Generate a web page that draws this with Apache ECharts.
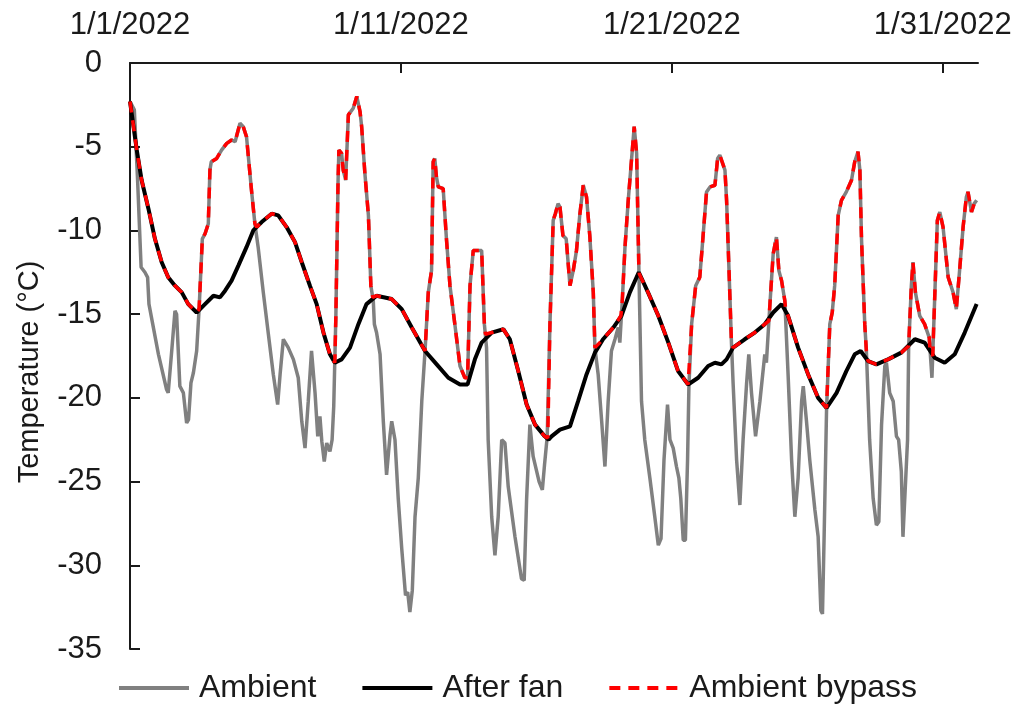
<!DOCTYPE html>
<html lang="en">
  <head>
    <meta charset="UTF-8" />
    <title>Temperature - January 2022</title>
    <script src="https://cdn.jsdelivr.net/npm/echarts@6.0.0/dist/echarts.min.js"></script>
    <style>
      html, body { margin: 0; padding: 0; background: #fff; }
    </style>
  </head>
  <body>
    <div id="chart" style="width: 1030px; height: 706px"></div>
    <script>
      // x = days since 1/1/2022, y = temperature in °C
      const seriesNames = ["Ambient", "After fan", "Ambient bypass"];
      const dayTicks = [0, 10, 20, 30];

      const ambient = [
        [0.0, -2.3], [0.06, -2.2], [0.16, -2.8], [0.28, -7.0], [0.41, -12.2], [0.55, -12.5],
        [0.65, -12.8], [0.7, -14.4], [1.05, -17.4], [1.35, -19.5], [1.41, -19.7], [1.55, -17.0],
        [1.66, -14.8], [1.72, -15.0], [1.84, -19.3], [1.97, -19.7], [2.09, -21.5], [2.16, -21.3],
        [2.25, -19.1], [2.34, -18.5], [2.46, -17.2], [2.55, -14.7], [2.67, -10.5], [2.77, -10.2],
        [2.89, -9.6], [2.95, -6.4], [3.0, -5.9], [3.2, -5.7], [3.38, -5.2], [3.57, -4.8],
        [3.75, -4.6], [3.88, -4.7], [4.06, -3.6], [4.18, -3.8], [4.3, -4.4], [4.49, -7.7],
        [4.61, -9.6], [4.73, -11.0], [4.92, -13.7], [5.1, -16.1], [5.29, -18.6], [5.45, -20.4],
        [5.54, -18.6], [5.66, -16.5], [5.84, -17.0], [6.03, -17.7], [6.21, -18.8], [6.34, -21.4],
        [6.46, -23.0], [6.58, -20.2], [6.7, -17.2], [6.83, -19.7], [6.93, -22.3], [7.01, -21.1],
        [7.08, -22.6], [7.17, -23.8], [7.26, -22.7], [7.38, -23.2], [7.46, -22.5], [7.52, -20.5],
        [7.6, -15.0], [7.68, -7.0], [7.71, -5.2], [7.81, -5.4], [7.87, -6.4], [7.96, -7.0],
        [8.06, -3.1], [8.24, -2.7], [8.37, -2.0], [8.49, -2.9], [8.55, -3.8], [8.67, -6.6],
        [8.8, -9.1], [8.89, -13.3], [8.98, -14.2], [9.02, -15.6], [9.1, -16.1], [9.23, -17.4],
        [9.35, -21.4], [9.47, -24.6], [9.6, -22.2], [9.66, -21.4], [9.78, -22.5], [9.9, -26.0],
        [10.03, -29.0], [10.17, -31.8], [10.25, -31.6], [10.33, -32.8], [10.42, -31.5], [10.52, -27.1],
        [10.64, -24.8], [10.77, -20.2], [10.89, -17.2], [11.01, -13.7], [11.13, -12.4], [11.19, -5.9],
        [11.25, -5.7], [11.31, -6.8], [11.38, -7.4], [11.56, -7.5], [11.68, -10.5], [11.81, -13.3],
        [11.99, -15.6], [12.18, -18.1], [12.36, -18.8], [12.46, -18.8], [12.55, -13.3], [12.67, -11.2],
        [12.98, -11.2], [13.08, -15.6], [13.16, -17.0], [13.22, -22.5], [13.35, -27.1], [13.47, -29.4],
        [13.59, -27.1], [13.72, -22.5], [13.84, -22.7], [13.96, -25.3], [14.21, -28.3], [14.45, -30.8],
        [14.55, -30.9], [14.64, -26.0], [14.76, -21.6], [14.88, -23.5], [15.1, -25.0], [15.22, -25.5],
        [15.3, -24.0], [15.4, -22.3], [15.5, -15.6], [15.62, -9.4], [15.7, -9.0], [15.8, -8.4],
        [15.87, -8.6], [15.98, -10.3], [16.1, -10.5], [16.24, -13.3], [16.36, -12.4], [16.48, -11.2],
        [16.6, -9.1], [16.73, -7.3], [16.85, -8.0], [16.97, -10.3], [17.1, -13.7], [17.16, -17.0],
        [17.28, -18.6], [17.41, -21.4], [17.53, -24.1], [17.65, -20.2], [17.77, -17.2], [17.9, -16.5],
        [18.02, -15.8], [18.08, -16.7], [18.17, -14.2], [18.27, -11.0], [18.39, -8.2], [18.54, -5.2],
        [18.61, -3.8], [18.7, -5.4], [18.78, -12.1], [18.88, -20.2], [19.0, -22.5], [19.19, -24.8],
        [19.37, -27.1], [19.5, -28.8], [19.6, -28.4], [19.71, -23.7], [19.84, -20.4], [19.93, -22.5],
        [20.05, -23.0], [20.17, -24.1], [20.26, -24.8], [20.33, -26.0], [20.42, -28.5], [20.5, -28.5],
        [20.58, -23.7], [20.63, -19.3], [20.73, -15.6], [20.88, -13.3], [21.03, -12.8], [21.12, -11.0],
        [21.28, -7.7], [21.41, -7.4], [21.59, -7.3], [21.69, -5.7], [21.77, -5.5], [21.96, -6.4],
        [22.02, -8.2], [22.11, -12.4], [22.2, -16.7], [22.26, -19.1], [22.39, -23.7], [22.51, -26.4],
        [22.63, -22.5], [22.76, -19.1], [22.84, -17.4], [22.94, -19.7], [23.09, -22.3], [23.25, -20.2],
        [23.43, -17.4], [23.49, -17.9], [23.62, -14.4], [23.74, -11.4], [23.86, -10.4], [23.95, -12.4],
        [24.05, -13.0], [24.17, -14.2], [24.29, -18.6], [24.42, -23.7], [24.54, -27.1], [24.66, -24.8],
        [24.79, -20.2], [24.85, -19.3], [24.97, -21.4], [25.09, -23.7], [25.28, -26.7], [25.4, -28.3],
        [25.5, -32.7], [25.56, -32.9], [25.62, -28.3], [25.71, -20.7], [25.83, -15.6], [25.92, -14.9],
        [26.01, -13.3], [26.14, -9.1], [26.26, -8.2], [26.44, -7.7], [26.63, -7.0], [26.75, -5.9],
        [26.87, -5.3], [26.94, -6.4], [27.0, -10.5], [27.12, -15.6], [27.18, -17.2], [27.3, -22.5],
        [27.43, -26.0], [27.55, -27.6], [27.64, -27.4], [27.74, -21.6], [27.86, -18.1], [27.92, -17.9],
        [28.04, -19.7], [28.17, -20.2], [28.29, -22.3], [28.37, -22.5], [28.47, -24.4], [28.53, -28.3],
        [28.6, -28.3], [28.7, -22.5], [28.74, -17.0], [28.84, -13.3], [28.9, -11.9], [28.99, -13.7],
        [29.15, -15.1], [29.33, -15.6], [29.5, -16.4], [29.6, -18.8], [29.66, -16.0], [29.8, -9.4],
        [29.89, -8.9], [30.01, -9.8], [30.2, -12.8], [30.38, -13.7], [30.5, -14.7], [30.62, -12.4],
        [30.75, -9.8], [30.87, -8.0], [30.93, -7.7], [31.06, -8.9], [31.16, -8.4], [31.25, -8.2]
      ];

      const afterFan = [
        [0.0, -2.3], [0.06, -2.4], [0.25, -5.2], [0.43, -7.0], [0.68, -8.7], [0.92, -10.5],
        [1.17, -11.9], [1.41, -12.8], [1.66, -13.3], [1.91, -13.7], [2.15, -14.4], [2.46, -14.9],
        [2.77, -14.4], [3.08, -13.9], [3.32, -14.0], [3.51, -13.6], [3.75, -13.0], [4.0, -12.1],
        [4.3, -11.0], [4.55, -10.0], [4.86, -9.5], [5.23, -9.0], [5.47, -9.1], [5.78, -9.8],
        [6.09, -10.7], [6.34, -11.9], [6.64, -13.3], [6.89, -14.4], [7.14, -16.1], [7.38, -17.4],
        [7.56, -17.9], [7.81, -17.7], [8.12, -17.0], [8.43, -15.6], [8.73, -14.4], [9.1, -13.9],
        [9.66, -14.1], [10.03, -14.7], [10.4, -15.8], [10.89, -17.2], [11.32, -18.0], [11.75, -18.8],
        [12.18, -19.2], [12.46, -19.2], [12.73, -17.7], [12.98, -16.7], [13.35, -16.1], [13.78, -15.9],
        [14.02, -16.5], [14.33, -18.4], [14.64, -20.4], [14.95, -21.6], [15.31, -22.3], [15.45, -22.5],
        [15.56, -22.3], [15.87, -21.9], [16.24, -21.7], [16.54, -20.2], [16.85, -18.6], [17.16, -17.3],
        [17.46, -16.5], [17.84, -15.8], [18.14, -15.1], [18.45, -13.7], [18.78, -12.5], [19.12, -13.7],
        [19.5, -15.1], [19.87, -16.7], [20.23, -18.4], [20.6, -19.2], [20.97, -18.8], [21.34, -18.1],
        [21.59, -17.9], [21.83, -18.0], [22.02, -17.7], [22.26, -17.0], [22.69, -16.5], [23.06, -16.1],
        [23.43, -15.6], [23.74, -14.9], [24.05, -14.4], [24.29, -15.1], [24.66, -17.0], [25.03, -18.6],
        [25.4, -20.0], [25.71, -20.6], [26.08, -19.7], [26.44, -18.4], [26.75, -17.4], [26.97, -17.2],
        [27.24, -17.8], [27.55, -18.0], [27.98, -17.7], [28.47, -17.3], [28.97, -16.5], [29.33, -16.7],
        [29.7, -17.6], [30.07, -17.9], [30.44, -17.4], [30.81, -16.1], [31.25, -14.4]
      ];

      const ambientBypass = [
        [0.0, -2.3], [0.06, -2.4], [0.25, -5.2], [0.43, -7.0], [0.68, -8.7], [0.92, -10.5],
        [1.17, -11.9], [1.41, -12.8], [1.66, -13.3], [1.91, -13.7], [2.15, -14.4], [2.46, -14.9],
        [2.55, -14.7], [2.67, -10.5], [2.77, -10.2], [2.89, -9.6], [2.95, -6.4], [3.0, -5.9],
        [3.2, -5.7], [3.38, -5.2], [3.57, -4.8], [3.75, -4.6], [3.88, -4.7], [4.06, -3.6],
        [4.18, -3.8], [4.3, -4.4], [4.49, -7.7], [4.61, -9.6], [4.68, -9.8], [4.86, -9.5],
        [5.23, -9.0], [5.47, -9.1], [5.78, -9.8], [6.09, -10.7], [6.34, -11.9], [6.64, -13.3],
        [6.89, -14.4], [7.14, -16.1], [7.38, -17.4], [7.56, -17.9], [7.6, -15.0], [7.68, -7.0],
        [7.71, -5.2], [7.81, -5.4], [7.87, -6.4], [7.96, -7.0], [8.06, -3.1], [8.24, -2.7],
        [8.37, -2.0], [8.49, -2.9], [8.55, -3.8], [8.67, -6.6], [8.8, -9.1], [8.89, -13.3],
        [8.96, -14.0], [9.1, -13.9], [9.66, -14.1], [10.03, -14.7], [10.4, -15.8], [10.89, -17.2],
        [11.01, -13.7], [11.13, -12.4], [11.19, -5.9], [11.25, -5.7], [11.31, -6.8], [11.38, -7.4],
        [11.56, -7.5], [11.68, -10.5], [11.81, -13.3], [11.99, -15.6], [12.18, -18.1], [12.36, -18.8],
        [12.46, -18.8], [12.55, -13.3], [12.67, -11.2], [12.98, -11.2], [13.08, -15.6], [13.12, -16.2],
        [13.35, -16.1], [13.78, -15.9], [14.02, -16.5], [14.33, -18.4], [14.64, -20.4], [14.95, -21.6],
        [15.31, -22.3], [15.42, -22.4], [15.5, -15.6], [15.62, -9.4], [15.7, -9.0], [15.8, -8.4],
        [15.87, -8.6], [15.98, -10.3], [16.1, -10.5], [16.24, -13.3], [16.36, -12.4], [16.48, -11.2],
        [16.6, -9.1], [16.73, -7.3], [16.85, -8.0], [16.97, -10.3], [17.1, -13.7], [17.16, -17.0],
        [17.46, -16.5], [17.84, -15.8], [18.12, -15.1], [18.17, -14.2], [18.27, -11.0], [18.39, -8.2],
        [18.54, -5.2], [18.61, -3.8], [18.7, -5.4], [18.78, -12.1], [18.8, -12.6], [19.12, -13.7],
        [19.5, -15.1], [19.87, -16.7], [20.23, -18.4], [20.6, -19.2], [20.63, -19.2], [20.73, -15.6],
        [20.88, -13.3], [21.03, -12.8], [21.12, -11.0], [21.28, -7.7], [21.41, -7.4], [21.59, -7.3],
        [21.69, -5.7], [21.77, -5.5], [21.96, -6.4], [22.02, -8.2], [22.11, -12.4], [22.2, -16.7],
        [22.26, -17.0], [22.69, -16.5], [23.06, -16.1], [23.43, -15.6], [23.58, -15.4], [23.62, -14.4],
        [23.74, -11.4], [23.86, -10.4], [23.95, -12.4], [24.05, -13.0], [24.17, -14.2], [24.2, -14.7],
        [24.29, -15.1], [24.66, -17.0], [25.03, -18.6], [25.4, -20.0], [25.71, -20.6], [25.83, -15.6],
        [25.92, -14.9], [26.01, -13.3], [26.14, -9.1], [26.26, -8.2], [26.44, -7.7], [26.63, -7.0],
        [26.75, -5.9], [26.87, -5.3], [26.94, -6.4], [27.0, -10.5], [27.12, -15.6], [27.18, -17.2],
        [27.24, -17.8], [27.55, -18.0], [27.98, -17.7], [28.47, -17.3], [28.74, -16.9], [28.84, -13.3],
        [28.9, -11.9], [28.99, -13.7], [29.15, -15.1], [29.33, -15.6], [29.5, -16.4], [29.53, -17.2],
        [29.63, -17.5], [29.66, -16.0], [29.8, -9.4], [29.89, -8.9], [30.01, -9.8], [30.2, -12.8],
        [30.38, -13.7], [30.5, -14.7], [30.62, -12.4], [30.75, -9.8], [30.87, -8.0], [30.93, -7.7],
        [31.06, -8.9], [31.16, -8.4], [31.25, -8.2]
      ];

      const font = "'Liberation Sans', Arial, sans-serif";
      const axisColor = "#1a1a1a";

      const chart = echarts.init(document.getElementById("chart"));

      const option = {
        animation: false,
        textStyle: { fontFamily: font },
        grid: { left: 130, right: 52, top: 63, bottom: 57 },
        legend: {
          data: seriesNames,
          left: 117,
          top: 672,
          itemWidth: 70,
          itemHeight: 24,
          itemGap: 44,
          padding: 0,
          itemStyle: { opacity: 0 },
          lineStyle: { width: 4 },
          textStyle: { fontSize: 32, color: axisColor, fontFamily: font, padding: [0, 0, 0, 5] },
        },
        xAxis: {
          type: "value",
          position: "top",
          min: 0,
          max: 31.3,
          interval: 10,
          axisLine: { onZero: false, lineStyle: { color: axisColor, width: 2 } },
          axisTick: { inside: true, length: 10, customValues: dayTicks, lineStyle: { color: axisColor, width: 2 } },
          axisLabel: {
            customValues: dayTicks,
            margin: 22,
            fontSize: 31,
            color: axisColor,
            fontFamily: font,
            formatter: (v) => "1/" + (Math.round(v) + 1) + "/2022",
          },
          splitLine: { show: false },
        },
        yAxis: {
          type: "value",
          min: -35,
          max: 0,
          interval: 5,
          name: "Temperature (°C)",
          nameLocation: "middle",
          nameRotate: 90,
          nameGap: 86,
          nameTextStyle: { fontSize: 29, color: axisColor, fontFamily: font, padding: [0, 32, 0, 0] },
          axisLine: { onZero: false, lineStyle: { color: axisColor, width: 2 } },
          axisTick: { inside: true, length: 10, lineStyle: { color: axisColor, width: 2 } },
          axisLabel: { margin: 28, fontSize: 31, color: axisColor, fontFamily: font },
          splitLine: { show: false },
        },
        series: [
          {
            name: seriesNames[0],
            type: "line",
            data: ambient,
            symbol: "none",
            lineStyle: { color: "#808080", width: 3.5 },
            itemStyle: { color: "#808080" },
          },
          {
            name: seriesNames[1],
            type: "line",
            data: afterFan,
            symbol: "none",
            lineStyle: { color: "#000000", width: 4 },
            itemStyle: { color: "#000000" },
          },
          {
            name: seriesNames[2],
            type: "line",
            data: ambientBypass,
            symbol: "none",
            lineStyle: { color: "#ff0000", width: 3.5, type: [11, 8] },
            itemStyle: { color: "#ff0000" },
          },
        ],
      };

      chart.setOption(option);
    </script>
  </body>
</html>
